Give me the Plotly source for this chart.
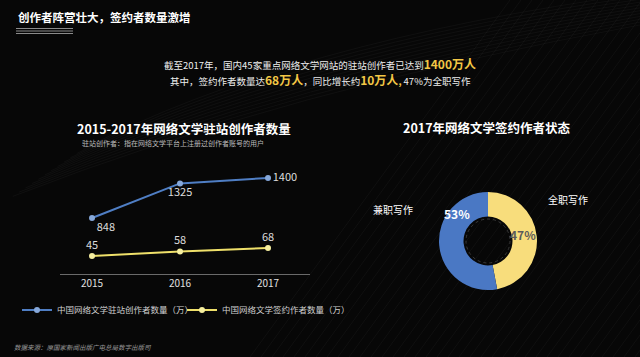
import plotly.graph_objects as go

# ---------------- data ----------------
years = [2015, 2016, 2017]
resident_authors = [848, 1325, 1400]      # 驻站创作者数量（万）
signed_authors = [45, 58, 68]             # 签约作者数量（万）
resident_label_pos = ["bottom right", "bottom center", "middle right"]
signed_label_pos = ["top center", "top center", "top center"]

status_labels = ["全职写作", "兼职写作"]
status_values = [47, 53]

series_names = ["中国网络文学驻站创作者数量（万）", "中国网络文学签约作者数量（万）"]

FONT = "Noto Sans CJK SC"
BLUE = "#4A78C4"
BLUE_LINE = "#4F7EC4"
YELLOW = "#F8DD7C"
YELLOW_LINE = "#EFE06A"
GOLD = "#F3C745"

fig = go.Figure()

fig.add_trace(go.Scatter(
    x=years, y=resident_authors, name=series_names[0], mode="lines+markers+text",
    line=dict(color=BLUE_LINE, width=2), marker=dict(size=6, color="#86A8DA"),
    text=[str(v) for v in resident_authors], textposition=resident_label_pos,
    textfont=dict(family=FONT, size=11, color="#DDDDDD"),
    yaxis="y2", cliponaxis=False,
))
fig.add_trace(go.Scatter(
    x=years, y=signed_authors, name=series_names[1], mode="lines+markers+text",
    line=dict(color=YELLOW_LINE, width=2), marker=dict(size=6, color="#F6EFA0"),
    text=[str(v) for v in signed_authors], textposition=signed_label_pos,
    textfont=dict(family=FONT, size=11, color="#DDDDDD"),
    yaxis="y", cliponaxis=False,
))

fig.add_trace(go.Pie(
    labels=status_labels, values=status_values, hole=0.5, sort=False,
    direction="clockwise", rotation=0,
    marker=dict(colors=[YELLOW, BLUE], line=dict(width=0)),
    textinfo="none",
    domain=dict(x=[439/640, 537/640], y=[1-290/357, 1-192/357]),
    showlegend=False, hoverinfo="label+percent",
))

# ---------------- background streaks (decoration) ----------------
shapes = []
for i in range(46):
    x0 = 250 + i * 11
    shapes.append(dict(type="line", xref="paper", yref="paper",
                       x0=x0/640, y0=0, x1=(x0+260)/640, y1=1,
                       line=dict(color="rgba(140,140,140,0.07)", width=1), layer="below"))
for i in range(12):
    shapes.append(dict(type="path", xref="paper", yref="paper",
                       path=f"M {0.02+i*0.01} {0.45+i*0.012} Q 0.45 {0.75+i*0.012} 1.0 {0.93+i*0.008}",
                       line=dict(color="rgba(150,150,150,0.06)", width=1), layer="below"))
# title underline
for yy in [28.5, 31, 33.5]:
    shapes.append(dict(type="line", xref="paper", yref="paper",
                       x0=16/640, x1=73/640, y0=1-yy/357, y1=1-yy/357,
                       line=dict(color="#8A8A8A", width=1)))
# dotted ring inside donut hole
shapes.append(dict(type="circle", xref="paper", yref="paper",
                   x0=466/640, x1=510/640, y0=1-263/357, y1=1-219/357,
                   line=dict(color="#3A3A3A", width=1, dash="dot")))

ann = []
def A(x, y, text, size, color="#FFFFFF", xanchor="center", bold=False, italic=False):
    t = f"<b>{text}</b>" if bold else text
    if italic:
        t = f"<i>{t}</i>"
    ann.append(dict(x=x/640, y=1-y/357, xref="paper", yref="paper", text=t, showarrow=False,
                    xanchor=xanchor, yanchor="middle",
                    font=dict(family=FONT, size=size, color=color)))

A(16, 17, "创作者阵营壮大，签约者数量激增", 11.5, xanchor="left", bold=True)
hl = lambda s: f"<span style='font-size:12px;color:{GOLD}'><b>{s}</b></span>"
A(320, 63, "截至2017年，国内45家重点网络文学网站的驻站创作者已达到" + hl("1400万人"), 9.5, "#EDEDED")
A(320, 79, "其中，签约作者数量达" + hl("68万人") + "，同比增长约" + hl("10万人") +
  f"<span style='color:{GOLD}'><b>,</b></span> 47%为全职写作", 9.5, "#EDEDED")
A(184, 128, "2015-2017年网络文学驻站创作者数量", 12.5, bold=True)
A(80, 143, "驻站创作者：指在网络文学平台上注册过创作者账号的用户", 7, "#BBBBBB", xanchor="left")
A(487, 127, "2017年网络文学签约作者状态", 12.5, bold=True)
A(393, 209, "兼职写作", 10, "#FFFFFF")
A(568, 199, "全职写作", 10, "#FFFFFF")
A(12, 347, "数据来源：原国家新闻出版广电总局数字出版司", 6.5, "#999999", xanchor="left", italic=True)
# donut percentage labels (from data)
total = sum(status_values)
A(457, 213, f"{round(100*status_values[1]/total)}%", 12, "#FFFFFF", bold=True)
A(523, 234, f"{round(100*status_values[0]/total)}%", 12, "#5A5A5A", bold=True)

fig.update_layout(
    width=640, height=357, autosize=False,
    margin=dict(l=0, r=0, t=0, b=0),
    paper_bgcolor="#070707", plot_bgcolor="rgba(0,0,0,0)",
    font=dict(family=FONT, color="#FFFFFF"),
    xaxis=dict(domain=[60/640, 310/640], range=[2014.636, 2017.477],
               tickvals=years, ticktext=[str(y) for y in years],
               showgrid=False, zeroline=False, showline=True, linecolor="#6A6A6A", linewidth=1,
               ticks="", tickfont=dict(family=FONT, size=10, color="#E0E0E0")),
    yaxis=dict(domain=[1-274/357, 1-160/357], range=[-6.75, 321],
               visible=False, showgrid=False, zeroline=False),
    yaxis2=dict(domain=[1-274/357, 1-160/357], range=[75.2, 1648.4], overlaying="y",
                visible=False, showgrid=False, zeroline=False),
    legend=dict(orientation="h", x=17/640, y=1-310/357, xanchor="left", yanchor="middle",
                font=dict(family=FONT, size=8.5, color="#D0D0D0"), bgcolor="rgba(0,0,0,0)",
                entrywidth=120, itemwidth=30),
    shapes=shapes, annotations=ann,
)

fig.write_html("out.html", config={"displayModeBar": False},
               post_script="document.body.style.margin='0';document.body.style.background='#070707';")
